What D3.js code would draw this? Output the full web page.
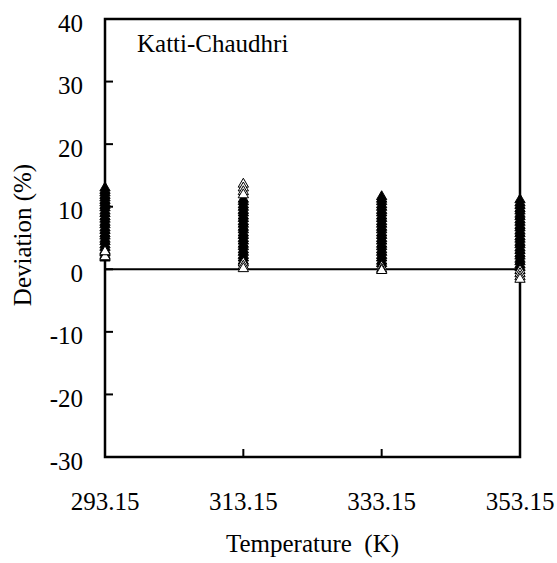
<!DOCTYPE html>
<html>
<head>
<meta charset="utf-8">
<script src="https://cdn.jsdelivr.net/npm/d3@7"></script>
<style>
  body { margin: 0; background: #fff; }
  svg text { font-family: "Liberation Serif", "Times New Roman", serif; fill: #000; }
</style>
</head>
<body>
<div class="viz"></div>
<script>
const width = 557;
const height = 563;
const margin = {top: 19, right: 37, bottom: 106, left: 105};

const temps = [293.15, 313.15, 333.15, 353.15];
const tempLabels = ["293.15", "313.15", "333.15", "353.15"];
const yTicks = [-30, -20, -10, 0, 10, 20, 30, 40];

// deviations, filled triangles
const filled293 = [13.0, 12.6, 12.2, 11.8, 11.4, 11.0, 10.6, 10.2, 9.8, 9.3, 8.9, 8.4, 8.0, 7.5, 7.1, 6.6, 6.2, 5.7, 5.3, 4.8, 4.4, 3.9, 3.5, 3.0, 2.6, 2.2, 1.8];
const filled313 = [11.2, 10.8, 10.3, 9.9, 9.4, 9.0, 8.5, 8.1, 7.6, 7.2, 6.7, 6.3, 5.8, 5.4, 4.9, 4.5, 4.0, 3.6, 3.1, 2.7, 2.2, 1.8, 1.3];
const filled333 = [11.6, 11.2, 10.8, 10.3, 9.9, 9.4, 9.0, 8.5, 8.1, 7.6, 7.2, 6.7, 6.3, 5.8, 5.4, 4.9, 4.5, 4.0, 3.6, 3.1, 2.7, 2.2, 1.8, 1.3, 0.9];
const filled353 = [11.1, 10.6, 10.2, 9.7, 9.3, 8.8, 8.4, 7.9, 7.5, 7.0, 6.6, 6.1, 5.7, 5.2, 4.8, 4.3, 3.9, 3.4, 3.0, 2.5, 2.1, 1.6, 1.2, 0.7, 0.3];
// open triangles
const open293 = [2.0, 2.8];
const open313 = [13.6, 13.0, 12.4, 11.9, 1.0, 0.5, 0.1];
const open333 = [0.4, 0.0, -0.2];
const open353 = [-0.2, -0.7, -1.2, -1.6];

const filledSets = [filled293, filled313, filled333, filled353];
const openSets = [open293, open313, open333, open353];

const svg = d3.select('.viz').append('svg')
  .attr('width', width)
  .attr('height', height);

const x = d3.scaleLinear()
  .domain([293.15, 353.15])
  .range([margin.left, width - margin.right]);

const y = d3.scaleLinear()
  .domain([-30, 40])
  .range([height - margin.bottom, margin.top]);

// frame
svg.append('rect')
  .attr('x', x(293.15))
  .attr('y', y(40))
  .attr('width', x(353.15) - x(293.15))
  .attr('height', y(-30) - y(40))
  .attr('fill', 'none')
  .attr('stroke', '#000')
  .attr('stroke-width', 2.5);

// y ticks inward
svg.selectAll('.ytick')
  .data(yTicks)
  .join('line')
  .attr('class', 'ytick')
  .attr('x1', x(293.15))
  .attr('x2', x(293.15) + 8)
  .attr('y1', d => y(d))
  .attr('y2', d => y(d))
  .attr('stroke', '#000')
  .attr('stroke-width', 2);

svg.selectAll('.ylab')
  .data(yTicks)
  .join('text')
  .attr('class', 'ylab')
  .attr('x', x(293.15) - 22)
  .attr('y', d => y(d) + 12.5)
  .attr('text-anchor', 'end')
  .attr('font-size', 25)
  .text(d => d);

// x ticks inward
svg.selectAll('.xtick')
  .data(temps)
  .join('line')
  .attr('class', 'xtick')
  .attr('x1', d => x(d))
  .attr('x2', d => x(d))
  .attr('y1', y(-30))
  .attr('y2', y(-30) - 8)
  .attr('stroke', '#000')
  .attr('stroke-width', 2);

svg.selectAll('.xlab')
  .data(temps)
  .join('text')
  .attr('class', 'xlab')
  .attr('x', d => x(d))
  .attr('y', 510)
  .attr('text-anchor', 'middle')
  .attr('font-size', 25)
  .text((d, i) => tempLabels[i]);

// zero line
svg.append('line')
  .attr('x1', x(293.15))
  .attr('x2', x(353.15))
  .attr('y1', y(0))
  .attr('y2', y(0))
  .attr('stroke', '#000')
  .attr('stroke-width', 2);

const tri = d3.symbol().type(d3.symbolTriangle).size(46);

temps.forEach((t, i) => {
  svg.append('g').selectAll('path')
    .data(filledSets[i])
    .join('path')
    .attr('d', tri)
    .attr('transform', d => `translate(${x(t)},${y(d)})`)
    .attr('fill', '#000')
    .attr('stroke', '#000')
    .attr('stroke-width', 1);

  svg.append('g').selectAll('path')
    .data(openSets[i])
    .join('path')
    .attr('d', tri)
    .attr('transform', d => `translate(${x(t)},${y(d)})`)
    .attr('fill', '#fff')
    .attr('stroke', '#000')
    .attr('stroke-width', 1);
});

svg.append('text')
  .attr('x', 137)
  .attr('y', 52)
  .attr('font-size', 25)
  .text('Katti-Chaudhri');

svg.append('text')
  .attr('x', (x(293.15) + x(353.15)) / 2)
  .attr('y', 552)
  .attr('text-anchor', 'middle')
  .attr('font-size', 25)
  .style('white-space', 'pre')
  .text('Temperature  (K)');

svg.append('text')
  .attr('transform', `translate(31,235) rotate(-90)`)
  .attr('text-anchor', 'middle')
  .attr('font-size', 25)
  .text('Deviation (%)');
</script>
</body>
</html>
